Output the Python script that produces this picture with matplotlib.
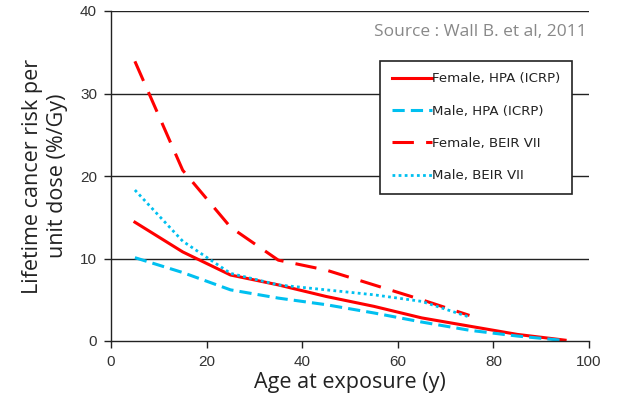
import matplotlib
matplotlib.use('Agg')
import matplotlib.pyplot as plt

# --- Data ---
ages_full = [5, 15, 25, 35, 45, 55, 65, 75, 85, 95]
ages_beir = [5, 15, 25, 35, 45, 55, 65, 75]

female_hpa = [14.4, 10.8, 8.0, 6.8, 5.4, 4.2, 2.8, 1.8, 0.8, 0.1]
male_hpa = [10.1, 8.3, 6.2, 5.2, 4.4, 3.4, 2.3, 1.3, 0.6, 0.05]
female_beir = [33.9, 20.7, 13.8, 9.8, 8.6, 6.8, 5.0, 3.1]
male_beir = [18.3, 12.1, 8.2, 6.8, 6.2, 5.6, 4.8, 2.9]

RED = '#ff0000'
CYAN = '#00c0f0'

fig = plt.figure(figsize=(6.19, 4.09), dpi=100)
ax = fig.add_axes([111 / 619, 1 - 341 / 409, 478 / 619, 330 / 409])

ax.plot(ages_full, female_hpa, color=RED, lw=2.2, label='Female, HPA (ICRP)')
ax.plot(ages_full, male_hpa, color=CYAN, lw=2.2, dashes=(4, 2), label='Male, HPA (ICRP)')
ax.plot(ages_beir, female_beir, color=RED, lw=2.2, dashes=(7, 4), label='Female, BEIR VII')
ax.plot(ages_beir, male_beir, color=CYAN, lw=2.0, dashes=(1, 1.2), label='Male, BEIR VII')

ax.set_xlim(0, 100)
ax.set_ylim(0, 40)
ax.set_xticks(range(0, 101, 20))
ax.set_yticks(range(0, 41, 10))
for y in (10, 20, 30, 40):
    ax.axhline(y, color='#222222', lw=1.0, zorder=0)

for side in ('top', 'right'):
    ax.spines[side].set_visible(False)
for side in ('left', 'bottom'):
    ax.spines[side].set_color('#222222')
    ax.spines[side].set_linewidth(1.0)

ax.tick_params(axis='both', direction='out', length=5, width=1, color='#222222',
               labelsize=11, labelcolor='#333333', pad=5)
for lab in ax.get_xticklabels() + ax.get_yticklabels():
    lab.set_family('Liberation Sans')

ax.set_xlabel('Age at exposure (y)', family='Open Sans', fontsize=15.5, color='#222222', labelpad=2)
ax.set_ylabel('Lifetime cancer risk per\nunit dose (%/Gy)', family='Open Sans', fontsize=15.5,
              color='#222222', labelpad=9, linespacing=1.2)

ax.text(0.995, 0.96, 'Source : Wall B. et al, 2011', transform=ax.transAxes, ha='right', va='top',
        family='Open Sans', fontsize=12.5, color='#888888')

leg = ax.legend(loc='upper right', bbox_to_anchor=(0.964, 0.848), frameon=True, fancybox=False,
                prop={'family': 'DejaVu Sans', 'size': 9.6}, handlelength=3.0, handletextpad=0.05,
                labelspacing=1.45, borderpad=0.85, borderaxespad=0)
leg.get_frame().set_edgecolor('#222222')
leg.get_frame().set_linewidth(1.2)
leg.get_frame().set_alpha(1)
for t in leg.get_texts():
    t.set_color('#222222')

fig.savefig('out.png', dpi=100)
